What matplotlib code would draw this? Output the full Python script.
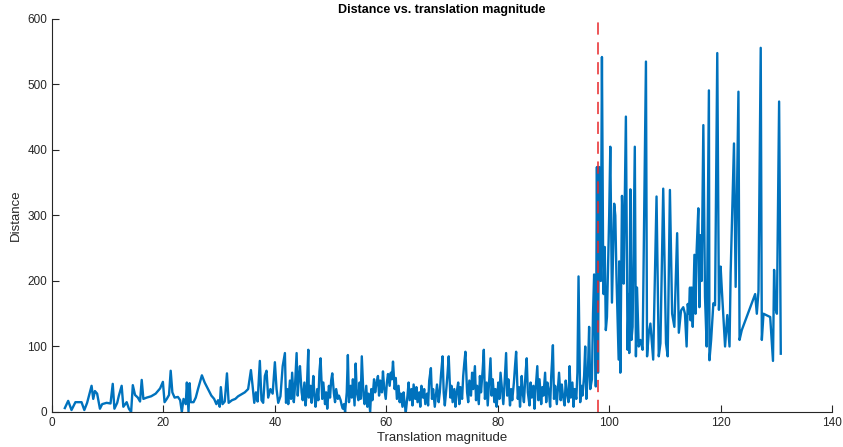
import numpy as np
import matplotlib.pyplot as plt

plt.rcParams['font.family'] = ['Liberation Sans', 'DejaVu Sans']

# small translations (x < 42)
mag_a = [2.3, 2.9, 3.5, 4.2, 5.3, 5.8, 6.3, 7.1, 7.4, 7.7, 8.1, 8.6, 9.0, 9.8, 10.5,
         10.9, 11.2, 11.7, 12.0, 12.5, 12.8, 13.4, 13.8, 14.2, 14.5, 14.9, 15.4, 15.8,
         16.1, 16.4, 17.0, 17.8, 18.6, 19.4, 19.9, 20.2, 20.6, 21.0, 21.3, 21.6, 22.0,
         22.6, 23.0, 23.3, 23.6, 24.0, 24.2, 24.5, 24.7, 24.9, 25.4, 25.8, 26.2, 26.9,
         27.4, 28.0, 28.6, 29.1, 29.5, 29.8, 30.1, 30.3, 30.6, 31.0, 31.4, 31.7, 32.3,
         32.9, 33.4, 34.0, 34.6, 35.2, 35.7, 36.0, 36.3, 36.6, 36.9, 37.3, 37.6, 37.9,
         38.2, 38.5, 38.8, 39.2, 39.6, 40.0, 40.3, 40.6, 41.0, 41.4, 41.8, 42.0]
dist_a = [6, 17, 3, 15, 15, 3, 14, 40, 20, 32, 28, 5, 12, 14, 13,
          43, 5, 14, 25, 40, 8, 15, 5, 0, 41, 26, 22, 16,
          49, 20, 22, 24, 28, 36, 46, 15, 20, 26, 63, 30, 22,
          23, 18, 0, 20, 12, 45, 0, 44, 15, 15, 22, 35, 56,
          45, 35, 25, 20, 12, 18, 8, 38, 12, 16, 59, 14, 18,
          20, 24, 27, 30, 35, 64, 40, 14, 30, 16, 78, 18, 14,
          55, 63, 22, 35, 28, 76, 35, 14, 24, 70, 90, 14]

# medium translations (42 < x < 98)
mag_b = [42.2, 42.4, 42.7, 42.9, 43.1, 43.4, 43.6, 43.9, 44.1, 44.3,
         44.5, 44.8, 45.0, 45.3, 45.5, 45.7, 46.0, 46.1, 46.4, 46.6,
         46.9, 47.1, 47.3, 47.6, 47.8, 48.0, 48.2, 48.5, 48.7, 49.0,
         49.2, 49.4, 49.7, 49.9, 50.1, 50.3, 50.6, 50.8, 51.0, 51.3,
         51.5, 51.8, 52.0, 52.2, 52.4, 52.6, 52.9, 53.1, 53.3, 53.6,
         53.8, 54.0, 54.3, 54.5, 54.7, 55.0, 55.2, 55.4, 55.6, 55.9,
         56.1, 56.4, 56.6, 56.8, 57.1, 57.3, 57.5, 57.8, 58.0, 58.2,
         58.5, 58.7, 58.9, 59.2, 59.4, 59.6, 59.9, 60.1, 60.3, 60.6,
         60.8, 61.0, 61.2, 61.5, 61.7, 61.9, 62.2, 62.4, 62.6, 62.9,
         63.1, 63.3, 63.5, 63.8, 64.0, 64.2, 64.5, 64.7, 64.9, 65.2,
         65.4, 65.6, 65.9, 66.1, 66.3, 66.6, 66.8, 67.0, 67.3, 67.5,
         67.7, 68.0, 68.2, 68.4, 68.7, 68.9, 69.1, 69.4, 69.6, 69.8,
         70.1, 70.3, 70.5, 70.8, 71.0, 71.2, 71.5, 71.7, 71.9, 72.2,
         72.4, 72.6, 72.9, 73.1, 73.3, 73.6, 73.8, 74.0, 74.2, 74.5,
         74.7, 74.9, 75.2, 75.4, 75.6, 75.9, 76.1, 76.3, 76.6, 76.8,
         77.0, 77.3, 77.5, 77.7, 78.0, 78.2, 78.4, 78.7, 78.9, 79.1,
         79.4, 79.6, 79.8, 80.1, 80.3, 80.5, 80.8, 81.0, 81.2, 81.5,
         81.7, 81.9, 82.2, 82.4, 82.6, 82.9, 83.1, 83.3, 83.6, 83.8,
         84.0, 84.3, 84.5, 84.7, 85.0, 85.2, 85.4, 85.7, 85.9, 86.1,
         86.4, 86.6, 86.8, 87.1, 87.3, 87.5, 87.8, 88.0, 88.2, 88.5,
         88.7, 88.9, 89.2, 89.4, 89.6, 89.9, 90.1, 90.3, 90.6, 90.8,
         91.0, 91.3, 91.5, 91.7, 92.0, 92.2, 92.4, 92.7, 92.9, 93.1,
         93.4, 93.6, 93.8, 94.1, 94.3, 94.5, 94.8, 95.0, 95.2, 95.5,
         95.7, 95.9, 96.2, 96.4, 96.6, 96.9, 97.1, 97.3, 97.6]
dist_b = [35, 12, 48, 20, 60, 15, 38, 90, 25, 52,
          70, 30, 18, 45, 10, 28, 95, 22, 40, 14,
          55, 25, 8, 35, 18, 62, 82, 20, 45, 12,
          30, 5, 40, 22, 48, 59, 28, 15, 35, 20,
          25, 18, 10, 5, 12, 0, 30, 87, 15, 40,
          22, 50, 10, 74, 30, 18, 45, 20, 85, 25,
          12, 40, 8, 28, 0, 35, 18, 50, 30, 42,
          55, 25, 48, 30, 62, 38, 20, 45, 58, 40,
          60, 50, 77, 35, 52, 20, 40, 15, 28, 8,
          30, 12, 0, 25, 45, 18, 35, 10, 42, 20,
          38, 15, 30, 8, 40, 22, 35, 12, 28, 10,
          48, 67, 20, 35, 8, 25, 42, 15, 30, 55,
          85, 30, 10, 38, 60, 85, 22, 40, 15, 35,
          8, 28, 45, 12, 38, 20, 55, 75, 92, 30,
          15, 48, 25, 60, 35, 70, 18, 40, 12, 55,
          30, 65, 95, 20, 45, 10, 38, 82, 25, 50,
          15, 35, 8, 45, 20, 60, 30, 12, 40, 90,
          25, 50, 10, 35, 18, 45, 70, 92, 20, 38,
          8, 55, 28, 15, 60, 82, 30, 10, 45, 22,
          40, 5, 35, 70, 18, 50, 12, 38, 25, 60,
          15, 45, 30, 8, 55, 102, 20, 40, 12, 35,
          60, 18, 42, 25, 10, 48, 30, 15, 70, 22,
          45, 8, 35, 20, 60, 207, 15, 40, 25, 55,
          100, 20, 65, 130, 35, 50, 150, 210, 39]

# large translations (x > 98)
mag_c = [97.8, 98.0, 98.2, 98.5, 98.7, 98.9, 99.0, 99.2, 99.4, 99.6, 100.0, 100.2,
         100.5, 100.9, 101.1, 101.3, 101.7, 101.8, 102.0, 102.3, 102.5, 102.6, 103.0,
         103.3, 103.5, 103.6, 103.8, 104.0, 104.2, 104.6, 104.8, 105.0, 105.3, 105.6,
         106.0, 106.6, 106.8, 107.1, 107.4, 107.9, 108.5, 108.9, 109.2, 109.7, 110.2,
         110.5, 110.9, 111.3, 111.7, 112.2, 112.5, 112.9, 113.3, 113.6, 113.9, 114.1,
         114.3, 114.5, 114.6, 114.8, 115.0, 115.3, 115.5, 115.7, 116.0, 116.2, 116.4,
         116.6, 116.9, 117.2, 117.5, 117.9, 118.0, 118.3, 118.7, 119.0, 119.4, 119.7,
         120.0, 120.2, 120.8, 121.2, 121.6, 121.8, 122.4, 122.7, 123.2, 123.4, 123.8,
         126.2, 126.5, 126.8, 127.2, 127.4, 127.7, 128.9, 129.4, 129.6, 129.8, 130.1,
         130.5, 130.8]
dist_c = [374, 60, 374, 200, 542, 252, 180, 252, 125, 145, 300, 405,
          167, 318, 300, 210, 80, 230, 60, 330, 270, 196, 451,
          95, 180, 90, 340, 110, 130, 405, 85, 190, 100, 110,
          95, 535, 85, 120, 135, 80, 329, 85, 105, 341, 105,
          85, 339, 150, 130, 273, 121, 155, 160, 150, 100, 165,
          150, 190, 140, 190, 130, 240, 150, 247, 311, 160, 270,
          200, 438, 176, 100, 491, 79, 110, 166, 163, 548, 156,
          222, 190, 100, 148, 100, 212, 410, 191, 489, 110, 125,
          180, 150, 185, 556, 110, 150, 145, 78, 217, 160, 150,
          474, 89]

threshold = 98

mag = np.concatenate([mag_a, mag_b, mag_c])
dist = np.concatenate([dist_a, dist_b, dist_c])

fig = plt.figure(figsize=(8.43, 4.47), dpi=100)
ax = fig.add_axes([0.0617, 0.0783, 0.9253, 0.8792])

ax.plot(mag, dist, color='#0072BD', lw=1.7)
ax.axvline(threshold, color='#e8272a', lw=1.1, ls=(0, (8, 5)))

ax.set_xlim(0, 140)
ax.set_ylim(0, 600)
ax.set_xticks(range(0, 141, 20))
ax.set_yticks(range(0, 601, 100))

ax.spines['top'].set_visible(False)
ax.spines['right'].set_visible(False)
for s in ['left', 'bottom']:
    ax.spines[s].set_color('#262626')
    ax.spines[s].set_linewidth(0.8)
ax.tick_params(direction='in', length=5, width=0.8, colors='#262626', labelsize=8.5)

ax.set_xlabel('Translation magnitude', fontsize=9.5, color='#262626', labelpad=2)
ax.set_ylabel('Distance', fontsize=9.5, color='#262626', labelpad=4)
ax.set_title('Distance vs. translation magnitude', fontsize=9, fontweight='bold', pad=4)

fig.savefig('out.png', dpi=100)
